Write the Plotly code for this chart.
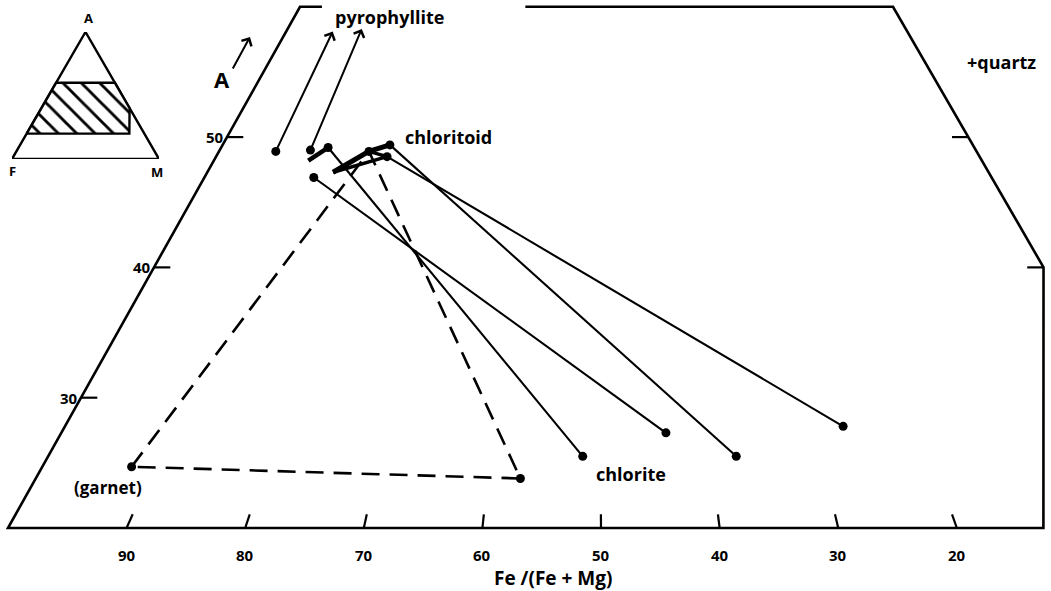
import plotly.graph_objects as go

# ---------------- data (Fe/(Fe+Mg) in %, A in %) ----------------
fe_ticks = [90, 80, 70, 60, 50, 40, 30, 20]
a_ticks_left = [30, 40, 50]
a_ticks_right = [40, 50]

# pyrophyllite arrows (constant Fe/(Fe+Mg), pointing to A)
pyro_fe = [92.5, 88.0]
pyro_base_a = [48.9, 49.0]
pyro_tip_a = [58.1, 58.3]

# chloritoid compositions
chloritoid_fe = [85.8, 80.2, 77.7, 77.6, 86.1]
chloritoid_a = [49.2, 48.9, 49.4, 48.5, 46.9]

# chlorite compositions
chlorite_fe = [51.6, 43.9, 37.7, 27.3]
chlorite_a = [25.5, 27.3, 25.5, 27.8]

# tie lines chloritoid[i] -> chlorite[j]
tie_from = [0, 4, 2, 3]
tie_to = [0, 1, 2, 3]

# chloritoid composition bars
bar1_fe = [87.7, 85.8]
bar1_a = [48.2, 49.2]
bar2_fe = [83.9, 80.2, 77.7]
bar2_a = [47.3, 48.9, 49.4]
bar3_fe = [83.9, 77.6, 80.2]
bar3_a = [47.3, 48.5, 48.9]

# three-phase triangle garnet - chloritoid - chlorite
garnet_fe = [92.0]
garnet_a = [24.7]
chl3_fe = [57.1]
chl3_a = [23.8]
tri_chloritoid_index = 1

# frame of the truncated AFM diagram
frame_fe = [62.0, 0, 0, 12.7, 100, 100, 96.3]
frame_a = [60, 60, 40, 20, 20, 60, 60]
region_fe = [100, 12.7, 0, 0, 100, 100]
region_a = [20, 20, 40, 60, 60, 20]

# ---------------- projection ----------------
S = 0.4924


def proj(fe, a):
    m = (100 - a) * (1 - fe / 100.0)
    return m + S * a, a


def proj_inset(fe, a):
    m = (100 - a) * (1 - fe / 100.0)
    return m + 0.5 * a, a


def projl(fes, as_):
    xs, ys = [], []
    for f, a in zip(fes, as_):
        x, y = proj(f, a)
        xs.append(x); ys.append(y)
    return xs, ys


FONT = "Open Sans"
BLK = "black"
fig = go.Figure()


def line(xs, ys, width=2.0, dash="solid", xaxis="x", yaxis="y"):
    fig.add_trace(go.Scatter(x=xs, y=ys, mode="lines", xaxis=xaxis, yaxis=yaxis,
                             line=dict(color=BLK, width=width, dash=dash),
                             hoverinfo="skip", showlegend=False))


# frame
fx, fy = projl(frame_fe, frame_a)
line(fx, fy, width=2.6)

# ticks
tx, ty = [], []
for t in fe_ticks:
    x0, y0 = proj(t, 20)
    x1, y1 = proj(t, 21.05)
    tx += [x0, x1, None]; ty += [y0, y1, None]
for a in a_ticks_left:
    x0, y0 = proj(100, a)
    tx += [x0, x0 + 1.1, None]; ty += [y0, y0, None]
for a in a_ticks_right:
    x0, y0 = proj(0, a)
    tx += [x0, x0 - 1.1, None]; ty += [y0, y0, None]
line(tx, ty, width=2.2)

# three-phase triangle (dashed)
cx, cy = proj(chloritoid_fe[tri_chloritoid_index], chloritoid_a[tri_chloritoid_index])
gx, gy = proj(garnet_fe[0], garnet_a[0])
hx, hy = proj(chl3_fe[0], chl3_a[0])
line([gx, cx, hx, gx], [gy, cy, hy, gy], width=2.6, dash="18px,10px")

# tie lines
lx, ly = [], []
for i, j in zip(tie_from, tie_to):
    x0, y0 = proj(chloritoid_fe[i], chloritoid_a[i])
    x1, y1 = proj(chlorite_fe[j], chlorite_a[j])
    lx += [x0, x1, None]; ly += [y0, y1, None]
line(lx, ly, width=2.1)

# chloritoid bars
bx, by = projl(bar1_fe, bar1_a)
line(bx, by, width=4.5)
bx, by = projl(bar2_fe, bar2_a)
line(bx, by, width=5)
bx, by = projl(bar3_fe, bar3_a)
line(bx, by, width=3.5)

# points
pts_fe = pyro_fe + chloritoid_fe + chlorite_fe + garnet_fe + chl3_fe
pts_a = pyro_base_a + chloritoid_a + chlorite_a + garnet_a + chl3_a
px_, py_ = projl(pts_fe, pts_a)
fig.add_trace(go.Scatter(x=px_, y=py_, mode="markers",
                         marker=dict(color=BLK, size=9),
                         hoverinfo="skip", showlegend=False))

ann = []
# pyrophyllite arrows
for f, a0, a1 in zip(pyro_fe, pyro_base_a, pyro_tip_a):
    x0, y0 = proj(f, a0)
    x1, y1 = proj(f, a1)
    ann.append(dict(x=x1, y=y1, ax=x0, ay=y0, xref="x", yref="y", axref="x", ayref="y",
                    text="", showarrow=True, arrowhead=4, arrowsize=1.1, arrowwidth=2,
                    arrowcolor=BLK, standoff=0, startstandoff=0))


def label(text, px, py, size=18, xanchor="center", yanchor="middle"):
    ann.append(dict(x=px / 1051.0, y=1 - py / 591.0, xref="paper", yref="paper",
                    text=text, showarrow=False, xanchor=xanchor, yanchor=yanchor,
                    font=dict(family=FONT, size=size, color=BLK, weight="bold")))


# tick labels
for t in fe_ticks:
    x0, _ = proj(t, 20)
    ann.append(dict(x=x0, y=17.9, xref="x", yref="y", text=str(t), showarrow=False,
                    font=dict(family=FONT, size=15, color=BLK, weight="bold")))
for a in a_ticks_left:
    x0, y0 = proj(100, a)
    ann.append(dict(x=x0, y=y0, xref="x", yref="y", text=str(a), showarrow=False,
                    xanchor="right", xshift=-1,
                    font=dict(family=FONT, size=15, color=BLK, weight="bold")))

label("pyrophyllite", 389, 17, size=18)
label("chloritoid", 448, 137, size=18)
label("chlorite", 631, 474, size=18)
label("(garnet)", 108, 487, size=17)
label("+quartz", 1001, 62, size=18)
label("Fe /(Fe + Mg)", 553, 578, size=19)
label("A", 222, 79, size=22)
ann.append(dict(x=250 / 1051.0, y=1 - 37 / 591.0, xref="paper", yref="paper",
                ax=-18, ay=33, text="", showarrow=True, arrowhead=4, arrowsize=1.1,
                arrowwidth=2, arrowcolor=BLK))

# ---------------- inset AFM triangle ----------------
ix, iy = [], []
for f, a in zip([100, 0, 50, 100], [0, 0, 100, 0]):
    x, y = proj_inset(f, a)
    ix.append(x); iy.append(y)
line(ix, iy, width=2.4, xaxis="x2", yaxis="y2")
rx, ry = [], []
for f, a in zip(region_fe, region_a):
    x, y = proj_inset(f, a)
    rx.append(x); ry.append(y)
fig.add_trace(go.Scatter(x=rx, y=ry, mode="lines", xaxis="x2", yaxis="y2", fill="toself",
                         fillcolor="rgba(0,0,0,0)",
                         fillpattern=dict(shape="\\", fgcolor=BLK, bgcolor="white",
                                          fgopacity=1, size=13, solidity=0.22),
                         line=dict(color=BLK, width=2.4),
                         hoverinfo="skip", showlegend=False))
label("A", 88, 18, size=13)
label("F", 12, 171, size=13)
label("M", 157, 172, size=13)

fig.update_layout(
    width=1051, height=591,
    margin=dict(l=0, r=0, t=0, b=0),
    paper_bgcolor="white", plot_bgcolor="rgba(0,0,0,0)",
    showlegend=False,
    annotations=ann,
    xaxis=dict(range=[9.309, 80.20], visible=False, fixedrange=True, domain=[0, 1]),
    yaxis=dict(range=[15.165, 60.52], visible=False, fixedrange=True, domain=[0, 1]),
    xaxis2=dict(range=[0, 100], visible=False, fixedrange=True,
                domain=[12 / 1051.0, 159 / 1051.0], anchor="y2"),
    yaxis2=dict(range=[0, 100], visible=False, fixedrange=True,
                domain=[1 - 159 / 591.0, 1 - 32 / 591.0], anchor="x2"),
)

fig.write_html("out.html", config={"displayModeBar": False},
               post_script="document.body.style.margin='0';document.body.style.overflow='hidden';")
